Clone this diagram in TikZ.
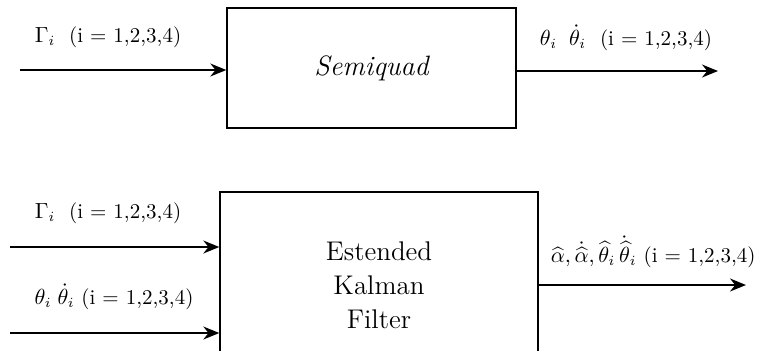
\documentclass[tikz,border=0pt]{standalone}
\usepackage{amsmath}
\usepackage{amssymb}
\usetikzlibrary{arrows.meta}
\begin{document}
\begin{tikzpicture}[x=0.5pt,y=-0.5pt,
	blockbox/.style={draw,line width=0.7pt,inner sep=0pt,align=center},
	sigline/.style={line width=0.7pt,-{Stealth[length=8pt,width=6.5pt]}},
	siglabel/.style={font=\fontsize{10.5}{12}\selectfont,inner sep=0pt}]
	
	\useasboundingbox (0,0) rectangle (760,350);
	\clip (0,0) rectangle (760,350);
	
	% plant
	\node[blockbox,minimum width=144.5pt,minimum height=60pt,
		font=\fontsize{14}{17}\selectfont\itshape] (Semi) at (371.5,68) {Semiquad};
	\coordinate (SemiIn) at (20,70);
	\coordinate (SemiOut) at (718,71);
	\draw[sigline] (SemiIn) -- (Semi.west |- SemiIn);
	\draw[sigline] (Semi.east |- SemiOut) -- (SemiOut);
	\node[siglabel] (SemiInLab) at (108,37) {$\Gamma_i$\ \ (i = 1,2,3,4)};
	\node[siglabel] (SemiOutLab) at (626,38) {$\theta_i\;\;\dot{\theta}_i$\ \ (i = 1,2,3,4)};
	
	% estimator
	\node[blockbox,minimum width=159pt,minimum height=93pt,
		font=\fontsize{13.5}{17}\selectfont] (EKF) at (379,285) {Estended\\ Kalman\\ Filter};
	\coordinate (EKFInA) at (10,247);
	\coordinate (EKFInB) at (10,333);
	\coordinate (EKFOut) at (746,285);
	\draw[sigline] (EKFInA) -- (EKF.west |- EKFInA);
	\draw[sigline] (EKFInB) -- (EKF.west |- EKFInB);
	\draw[sigline] (EKF.east |- EKFOut) -- (EKFOut);
	\node[siglabel] (EKFInALab) at (108,213) {$\Gamma_i$\ \ (i = 1,2,3,4)};
	\node[siglabel] (EKFInBLab) at (114,297) {$\theta_i\;\dot{\theta}_i$\ (i = 1,2,3,4)};
	\node[siglabel,anchor=east] (EKFOutLab) at (756,252)
		{$\widehat{\alpha}, \dot{\widehat{\alpha}}, \widehat{\theta}_i\, \dot{\widehat{\theta}}_i$\ (i = 1,2,3,4)};
	
\end{tikzpicture}
\end{document}
